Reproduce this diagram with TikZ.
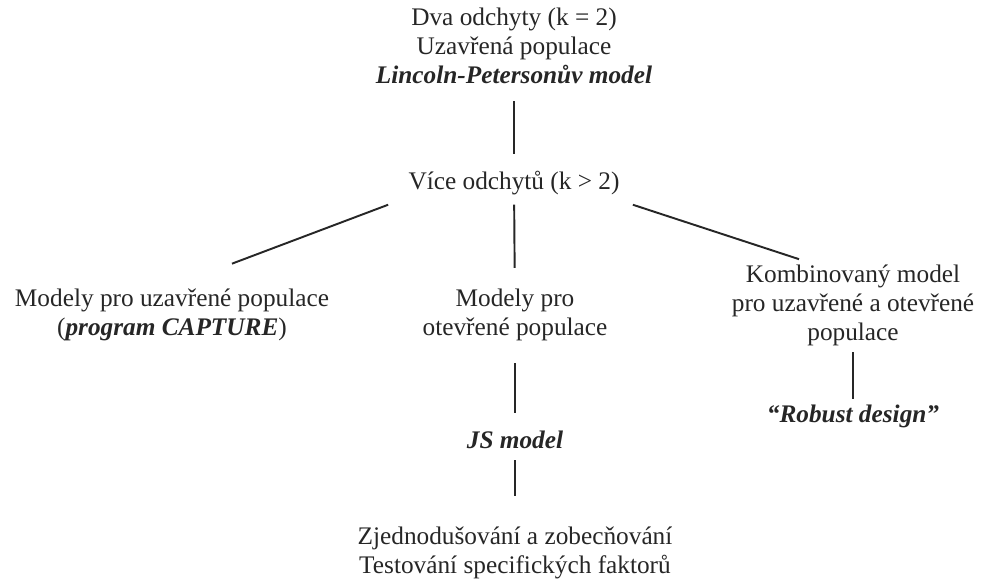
\documentclass[tikz,border=0pt]{standalone}
\usepackage{fontspec}
\setmainfont{Liberation Serif}
\usetikzlibrary{positioning}

\begin{document}
\begin{tikzpicture}[x=0.02cm,y=-0.02cm,
  lbl/.style={align=center,inner sep=0pt,text=black!85,font=\fontsize{14.4}{16.5}\selectfont},
  link/.style={draw=black!85,line width=1.1pt}]
\useasboundingbox (0,0) rectangle (997,581);

\node[lbl] (top) at (514,46) {Dva odchyty (k = 2)\\Uzavřená populace\\\textbf{\textit{Lincoln-Petersonův model}}};
\node[lbl] (vice) at (514,183) {Více odchytů (k > 2)};
\node[lbl] (closed) at (172,315) {Modely pro uzavřené populace\\(\textbf{\textit{program CAPTURE}})};
\node[lbl] (open) at (515,315) {Modely pro\\otevřené populace};
\node[lbl] (combined) at (853,305) {Kombinovaný model\\pro uzavřené a otevřené\\populace};
\node[lbl] (js) at (515,440) {\textbf{\textit{JS model}}};
\node[lbl] (robust) at (853,416) {\textbf{\textit{“Robust design”}}};
\node[lbl] (tests) at (515,553) {Zjednodušování a zobecňování\\Testování specifických faktorů};

\coordinate[below left=0.19cm and 0.4cm of vice.south west] (vl);
\coordinate[above right=0.5cm and 1.2cm of closed.north] (cl);
\coordinate[below right=0.19cm and 0.26cm of vice.south east] (vr);
\coordinate[above left=0.1cm and 1.08cm of combined.north] (cr);

\draw[link,shorten <=9.6pt,shorten >=9.6pt] (top) -- (vice);
\draw[link] (vl) -- (cl);
\draw[link] (vr) -- (cr);
\draw[link,shorten <=5.4pt,shorten >=11.9pt] (vice) -- (open);
\draw[link,shorten <=12.5pt,shorten >=10.2pt] (open) -- (js);
\draw[link,shorten <=6.2pt,shorten >=17.4pt] (js) -- (tests);
\draw[link,shorten <=3.6pt,shorten >=3pt] (combined) -- (robust);

\end{tikzpicture}
\end{document}
